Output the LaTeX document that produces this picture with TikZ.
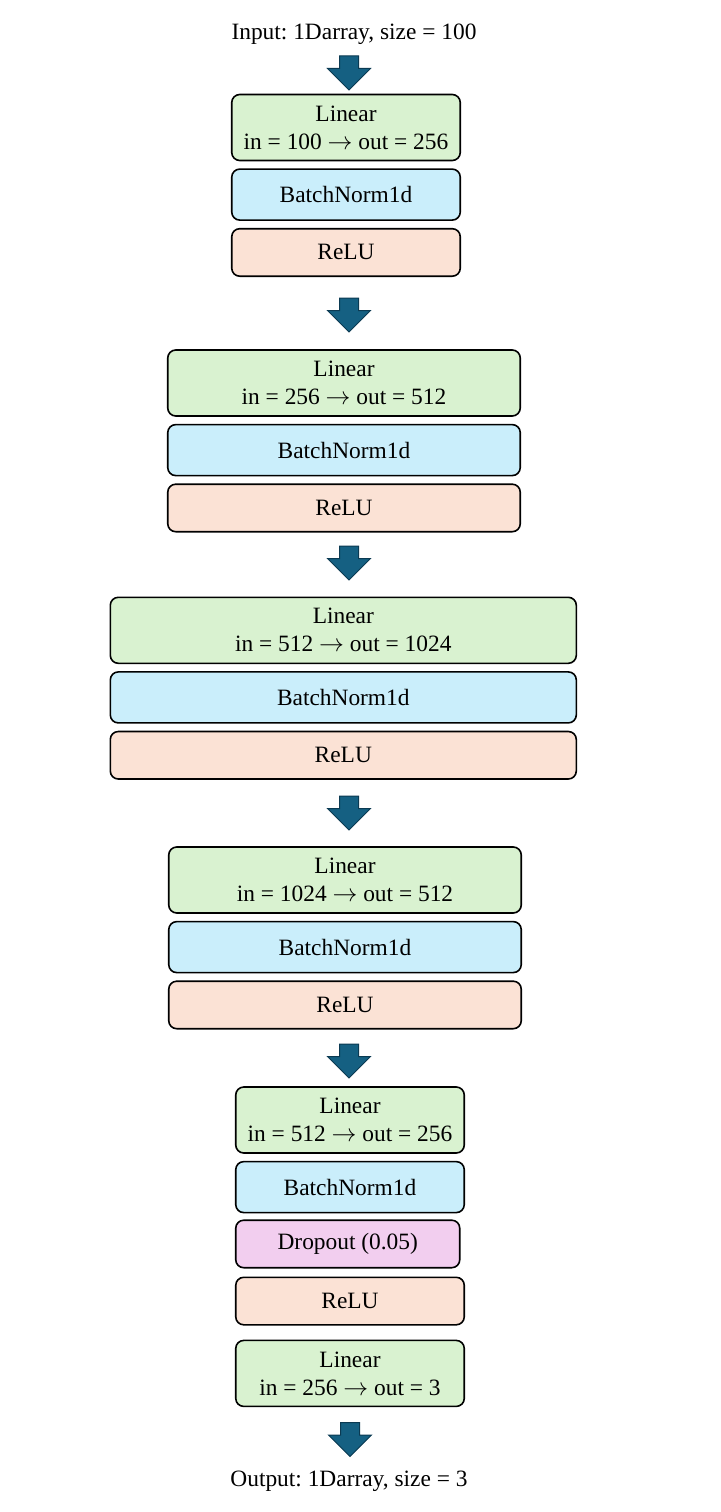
\documentclass[tikz,border=0pt]{standalone}
\usepackage{fontspec}
\setmainfont{Liberation Serif}
\frenchspacing
\usetikzlibrary{positioning,shapes.arrows}
\definecolor{linfill}{HTML}{D9F2D0}
\definecolor{bnfill}{HTML}{CAEEFB}
\definecolor{relufill}{HTML}{FBE2D5}
\definecolor{dropfill}{HTML}{F2CEEF}
\definecolor{flowfill}{HTML}{156082}
\definecolor{flowline}{HTML}{0B3A52}
\begin{document}
\begin{tikzpicture}[x=1pt,y=-1pt,
  layer/.style={draw,line width=1.6pt,rounded corners=8pt,align=center,inner sep=2pt,font=\fontsize{23.4}{28}\selectfont},
  linear/.style={layer,fill=linfill,minimum height=66pt},
  bnorm/.style={layer,fill=bnfill,minimum height=51pt},
  relu/.style={layer,fill=relufill,minimum height=47.5pt},
  drop/.style={layer,fill=dropfill,minimum height=47.5pt},
  iotext/.style={anchor=base,font=\fontsize{23.4}{28}\selectfont},
  flow/.style={single arrow,draw=flowline,fill=flowfill,line width=1pt,rotate=-90,anchor=tail,minimum height=34pt,minimum width=41pt,inner xsep=0pt,inner ysep=9pt,single arrow head extend=12pt}
]
\useasboundingbox (0,0) rectangle (720,1512);

% Input
\node[iotext] (in) at (354,40) {Input: 1Darray, size = 100};
\node[flow] (arr1) at (349,55.5) {};

% Block 1
\node[linear,minimum width=228.5pt] (lin1) at (346,127.5) {Linear\\in = 100 $\rightarrow$ out = 256};
\node[bnorm,minimum width=228.5pt,below=7pt of lin1] (bn1) {BatchNorm1d};
\node[relu,minimum width=228.5pt,below=7pt of bn1] (relu1) {ReLU};
\node[flow] (arr2) at (349,297.5) {};

% Block 2
\node[linear,minimum width=352.5pt] (lin2) at (344,383) {Linear\\in = 256 $\rightarrow$ out = 512};
\node[bnorm,minimum width=352.5pt,below=7pt of lin2] (bn2) {BatchNorm1d};
\node[relu,minimum width=352.5pt,below=7pt of bn2] (relu2) {ReLU};
\node[flow] (arr3) at (349,545.5) {};

% Block 3
\node[linear,minimum width=466pt] (lin3) at (343.3,630.3) {Linear\\in = 512 $\rightarrow$ out = 1024};
\node[bnorm,minimum width=466pt,below=7pt of lin3] (bn3) {BatchNorm1d};
\node[relu,minimum width=466pt,below=7pt of bn3] (relu3) {ReLU};
\node[flow] (arr4) at (349,795.5) {};

% Block 4
\node[linear,minimum width=352.5pt] (lin4) at (345,880) {Linear\\in = 1024 $\rightarrow$ out = 512};
\node[bnorm,minimum width=352.5pt,below=7pt of lin4] (bn4) {BatchNorm1d};
\node[relu,minimum width=352.5pt,below=7pt of bn4] (relu4) {ReLU};
\node[flow] (arr5) at (349,1043.5) {};

% Block 5 with dropout
\node[linear,minimum width=228.5pt] (lin5) at (350,1120) {Linear\\in = 512 $\rightarrow$ out = 256};
\node[bnorm,minimum width=228.5pt,below=7pt of lin5] (bn5) {BatchNorm1d};
\node[drop,minimum width=224pt,below=6pt of bn5.south west,anchor=north west] (drop5) {Dropout (0.05)};
\node[relu,minimum width=228.5pt,below=8pt of drop5.south west,anchor=north west] (relu5) {ReLU};

% Output layer
\node[linear,minimum width=228.5pt,below=14pt of relu5] (lin6) {Linear\\in = 256 $\rightarrow$ out = 3};
\node[flow] (arr6) at (350,1422) {};
\node[iotext] (out) at (349,1486.7) {Output: 1Darray, size = 3};

\end{tikzpicture}
\end{document}
